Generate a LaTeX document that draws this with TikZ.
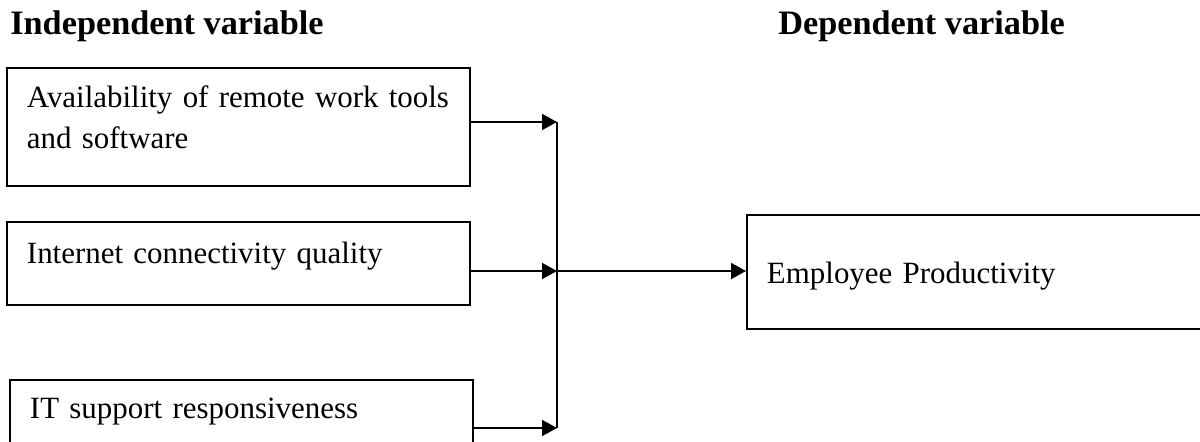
\documentclass[tikz,border=0pt]{standalone}
\usepackage{fontspec}
\setmainfont{Liberation Serif}
\usetikzlibrary{arrows.meta,positioning}

\begin{document}
\begin{tikzpicture}[
  var_block/.style={rectangle, draw=black, line width=1.1pt, anchor=north west, inner xsep=0.4cm, inner ysep=0pt, text width=8.46cm, align=left, font=\fontsize{17.6}{22.8}\selectfont},
  title_text/.style={anchor=base west, inner sep=0pt, font=\fontsize{19.5}{23}\selectfont\bfseries},
  arrow/.style={-{Triangle[length=0.3cm,width=0.32cm]}, line width=1.1pt},
  link/.style={line width=1.1pt}
]
\clip (0,0) rectangle (24,-8.84);

% Headings
\node[title_text] (indep) at (0.2,-0.7) {Independent variable};
\node[title_text] (dep) at (15.56,-0.7) {Dependent variable};

% Independent variables
\node[var_block, text height=0.8cm, text depth=1.56cm] (avail) at (0.12,-1.34) {Availability of remote work tools\\and software};
\node[var_block, text height=0.84cm, text depth=0.82cm] (inet) at (0.12,-4.42) {Internet connectivity quality};
\node[var_block, text height=0.78cm, text depth=0.88cm] (itsup) at (0.18,-7.58) {IT support responsiveness};

% Dependent variable
\node[var_block, text height=1.38cm, text depth=0.9cm] (prod) at (14.92,-4.28) {Employee Productivity};

% Joining line
\coordinate (j1) at (11.14,-2.44);
\coordinate (j2) at (11.14,-5.42);
\coordinate (j3) at (11.14,-8.56);

% Connection lines
\draw[arrow] (avail.east |- j1) -- (j1);
\draw[arrow] (inet.east |- j2) -- (j2);
\draw[arrow] (itsup.east |- j3) -- (j3);
\draw[link] (j1) -- (j3);
\draw[arrow] (j2) -- (prod.west |- j2);

\end{tikzpicture}
\end{document}
